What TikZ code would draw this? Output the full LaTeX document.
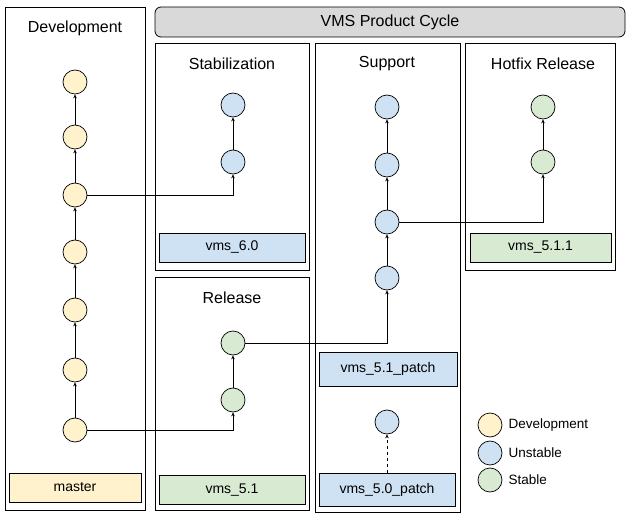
\documentclass[tikz,border=0pt]{standalone}
\usepackage{fontspec}
\setmainfont{Liberation Sans}
\usetikzlibrary{arrows.meta}
\definecolor{cy}{HTML}{FFF2CC}
\definecolor{cb}{HTML}{CFE2F3}
\definecolor{cg}{HTML}{D9EAD3}
\definecolor{cgr}{HTML}{D9D9D9}
\begin{document}
\begin{tikzpicture}[x=1pt,y=-1pt,
  box/.style={draw,line width=0.8pt},
  ttl/.style={font=\fontsize{16}{18}\selectfont},
  lbl/.style={draw,line width=0.8pt,minimum height=29pt,font=\fontsize{14}{16}\selectfont,anchor=center},
  c/.style={circle,draw,line width=0.7pt,minimum size=24pt,inner sep=0pt},
  a/.style={-{Stealth[length=4pt,width=3.5pt]},line width=0.7pt},
  leg/.style={anchor=west,font=\fontsize{13.5}{16}\selectfont}]
\useasboundingbox (0,0) rectangle (633,519);
% containers
\draw[box] (5,7) rectangle (145,510);
\node[ttl] (tdev) at (75,28) {Development};
\node[lbl,fill=cy,minimum width=132pt] (master) at (75,487.5) {master};
\draw[box,fill=cgr,rounded corners=6pt] (155,7) rectangle (625,37);
\node[ttl] (thead) at (390,22) {VMS Product Cycle};
\draw[box] (155,43) rectangle (309,270);
\node[ttl] (tstab) at (232,64) {Stabilization};
\node[lbl,fill=cb,minimum width=146pt] (v60) at (232,247.5) {vms\_6.0};
\draw[box] (155,277) rectangle (309,510);
\node[ttl] (trel) at (232,298) {Release};
\node[lbl,fill=cg,minimum width=146pt] (v51) at (232,490) {vms\_5.1};
\draw[box] (315,43) rectangle (460,512);
\node[ttl] (tsup) at (387,64) {Support};
\node[lbl,fill=cb,minimum width=138pt,minimum height=34pt] (v51p) at (388,369) {vms\_5.1\_patch};
\node[lbl,fill=cb,minimum width=136pt,minimum height=33pt] (v50p) at (387,489.5) {vms\_5.0\_patch};
\draw[box] (465,43) rectangle (615,270);
\node[ttl] (thot) at (543,64) {Hotfix Release};
\node[lbl,fill=cg,minimum width=141pt] (v511) at (540.5,247.5) {vms\_5.1.1};
% development
\foreach \i/\y in {1/82,2/137,3/195,4/252,5/310,6/370,7/430}
  \node[c,fill=cy] (d\i) at (75,\y) {};
\foreach \i/\j in {7/6,6/5,5/4,4/3,3/2,2/1} \draw[a] (d\i) -- (d\j);
% stabilization
\node[c,fill=cb] (s1) at (233,105) {};
\node[c,fill=cb] (s2) at (233,162) {};
\draw[a] (s2) -- (s1);
\draw[a] (d3) -| (s2);
% release
\node[c,fill=cg] (r1) at (233,343) {};
\node[c,fill=cg] (r2) at (233,400) {};
\draw[a] (r2) -- (r1);
\draw[a] (d7) -| (r2);
% support
\node[c,fill=cb] (p1) at (387,107) {};
\node[c,fill=cb] (p2) at (387,165) {};
\node[c,fill=cb] (p3) at (387,222) {};
\node[c,fill=cb] (p4) at (387,278) {};
\draw[a] (p4) -- (p3);
\draw[a] (p3) -- (p2);
\draw[a] (p2) -- (p1);
\draw[a] (r1) -| (p4);
\node[c,fill=cb] (p5) at (387,422) {};
\draw[a,dashed] (v50p) -- (p5);
% hotfix
\node[c,fill=cg] (h1) at (543,107) {};
\node[c,fill=cg] (h2) at (543,162) {};
\draw[a] (h2) -- (h1);
\draw[a] (p3) -| (h2);
% legend
\node[c,fill=cy] (l1) at (490,425) {};
\node[c,fill=cb] (l2) at (490,453) {};
\node[c,fill=cg] (l3) at (490,480) {};
\node[leg] (lt1) at (505,425) {Development};
\node[leg] (lt2) at (505,453) {Unstable};
\node[leg] (lt3) at (505,480) {Stable};
\end{tikzpicture}
\end{document}
